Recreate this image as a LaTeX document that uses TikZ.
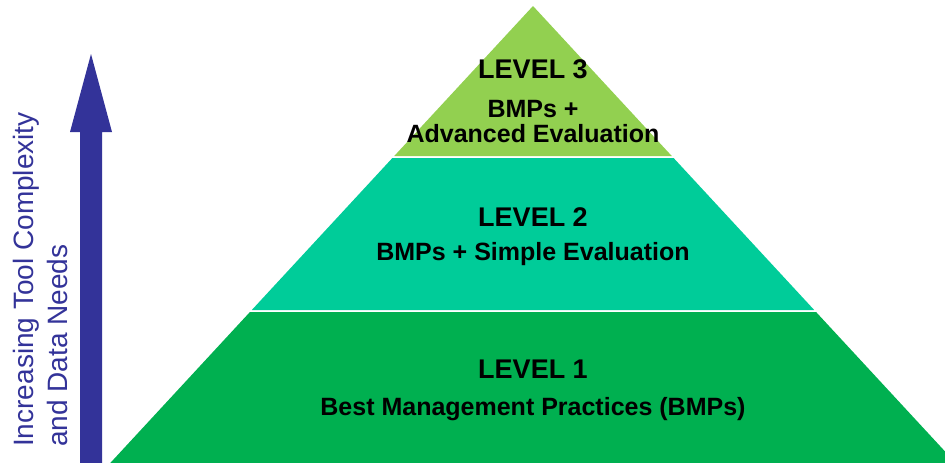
\documentclass[tikz,border=0pt]{standalone}
\usepackage{fontspec}
\setmainfont{Liberation Sans}

\definecolor{lvlone}{HTML}{00B050}
\definecolor{lvltwo}{HTML}{00CC99}
\definecolor{lvlthree}{HTML}{92D050}
\definecolor{arrowblue}{HTML}{333399}

\begin{document}
\begin{tikzpicture}[x=1pt,y=-1pt,
  title/.style={font=\fontsize{27}{30}\selectfont\bfseries, anchor=base, inner sep=0pt},
  caption/.style={font=\fontsize{25}{25}\selectfont\bfseries, anchor=base, inner sep=0pt, align=center}]

% Frame of the picture
\useasboundingbox (0,0) rectangle (945,463);
\clip (0,0) rectangle (945,463);

% Apex of the pyramid and slope of its sides
\def\cx{533}
\def\ty{6}
\def\k{0.925}

% Level 1 (base)
\fill[lvlone] ({\cx-\k*(312-\ty)},312) -- ({\cx+\k*(312-\ty)},312)
  -- ({\cx+\k*(463-\ty)},463) -- ({\cx-\k*(463-\ty)},463) -- cycle;

% Level 2 (middle)
\fill[lvltwo] ({\cx-\k*(158-\ty)},158) -- ({\cx+\k*(158-\ty)},158)
  -- ({\cx+\k*(310-\ty)},310) -- ({\cx-\k*(310-\ty)},310) -- cycle;

% Level 3 (top)
\fill[lvlthree] (\cx,\ty) -- ({\cx+\k*(156-\ty)},156)
  -- ({\cx-\k*(156-\ty)},156) -- cycle;

% Texts of the levels (base of a two-line caption is its last line)
\node[title] (lvl3) at (\cx,78) {LEVEL 3};
\node[caption] (lvl3txt) at (\cx,142) {BMPs +\\Advanced Evaluation};
\node[title] (lvl2) at (\cx,226) {LEVEL 2};
\node[caption] (lvl2txt) at (\cx,260) {BMPs + Simple Evaluation};
\node[title] (lvl1) at (\cx,378) {LEVEL 1};
\node[caption] (lvl1txt) at (\cx,415) {Best Management Practices (BMPs)};

% Block arrow on the left
\fill[arrowblue] (91,54) -- (112,132) -- (102,132) -- (102,463)
  -- (80,463) -- (80,132) -- (70,132) -- cycle;

% Label of the arrow
\node[rotate=90, anchor=west, align=left, inner sep=0pt, text=arrowblue,
  font=\fontsize{28}{34}\selectfont] (axis) at (40,447)
  {Increasing Tool Complexity\\and Data Needs};

\end{tikzpicture}
\end{document}
